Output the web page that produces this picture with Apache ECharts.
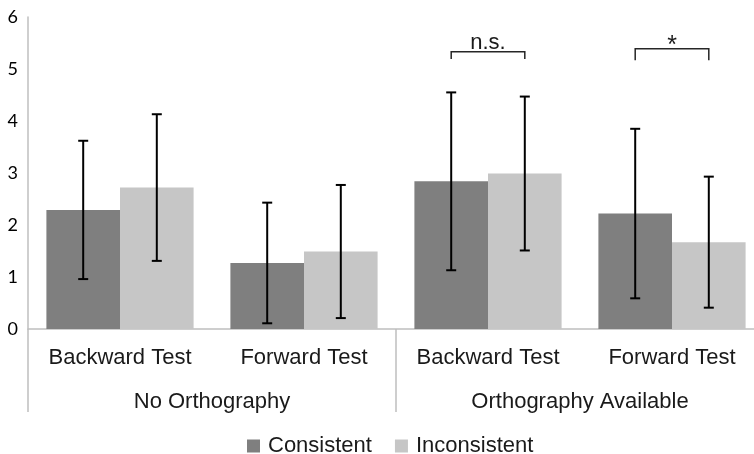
<!DOCTYPE html>
<html>
<head>
<meta charset="utf-8">
<script src="https://cdn.jsdelivr.net/npm/echarts@6/dist/echarts.min.js"></script>
<style>
  html, body { margin: 0; padding: 0; background: #fff; }
  #chart { width: 754px; height: 454px; }
</style>
</head>
<body>
<div id="chart"></div>
<script>
// data
const tests = ["Backward Test", "Forward Test", "Backward Test", "Forward Test"];
const conditions = ["No Orthography", "Orthography Available"];
const consistentMean = [2.29, 1.27, 2.84, 2.22];
const consistentSD = [1.33, 1.16, 1.71, 1.63];
const inconsistentMean = [2.72, 1.49, 2.99, 1.67];
const inconsistentSD = [1.41, 1.28, 1.48, 1.26];
// significance brackets: category index, bracket top, bracket ends, label
const bracketCat = [2, 3];
const bracketTop = [5.33, 5.39];
const bracketEnd = [5.19, 5.17];
const bracketText = ["n.s.", "*"];
const yTicks = [0, 1, 2, 3, 4, 5, 6];

const FONT = "'Liberation Sans', Arial, sans-serif";
const DARK = "#7f7f7f";
const LIGHT = "#c6c6c6";
const AXIS = "#bfbfbf";

const chart = echarts.init(document.getElementById("chart"));

// offset of each bar from the category centre (barGap 0, categoryGap 20%)
function barOffset(api, side) {
  const w = api.size([1, 0])[0] * 0.8 / 2;
  return side * w / 2;
}

function errorSeries(name, means, sds, side) {
  return {
    type: "custom",
    name: name + " err",
    xAxisIndex: 0,
    z: 5,
    silent: true,
    data: means.map((m, i) => [i, m, sds[i]]),
    renderItem: (params, api) => {
      const i = api.value(0);
      const m = api.value(1);
      const sd = api.value(2);
      const hi = api.coord([i, m + sd]);
      const lo = api.coord([i, m - sd]);
      const x = hi[0] + barOffset(api, side);
      const cap = 5;
      const style = { stroke: "#000", lineWidth: 2 };
      return {
        type: "group",
        children: [
          { type: "line", shape: { x1: x, y1: hi[1], x2: x, y2: lo[1] }, style },
          { type: "line", shape: { x1: x - cap, y1: hi[1], x2: x + cap, y2: hi[1] }, style },
          { type: "line", shape: { x1: x - cap, y1: lo[1], x2: x + cap, y2: lo[1] }, style }
        ]
      };
    }
  };
}

const bracketSeries = {
  type: "custom",
  name: "brackets",
  xAxisIndex: 0,
  z: 5,
  silent: true,
  data: bracketCat.map((c, i) => [c, bracketTop[i], bracketEnd[i], i]),
  renderItem: (params, api) => {
    const c = api.value(0);
    const top = api.coord([c, api.value(1)]);
    const end = api.coord([c, api.value(2)]);
    const x1 = top[0] + barOffset(api, -1);
    const x2 = top[0] + barOffset(api, 1);
    const label = bracketText[api.value(3)];
    const star = label === "*";
    return {
      type: "group",
      children: [
        {
          type: "polyline",
          shape: { points: [[x1, end[1]], [x1, top[1]], [x2, top[1]], [x2, end[1]]] },
          style: { stroke: "#262626", lineWidth: 1.5, fill: null }
        },
        {
          type: "text",
          x: top[0],
          y: top[1] - (star ? 3 : 9),
          style: {
            text: label,
            font: (star ? "25px " : "22px ") + FONT,
            fill: "#1a1a1a",
            align: "center",
            verticalAlign: "middle"
          }
        }
      ]
    };
  }
};

const options = {
  animation: false,
  grid: { left: 28, top: 17, width: 736, height: 312, outerBoundsMode: "none" },
  xAxis: [
    {
      type: "category",
      data: tests,
      position: "bottom",
      axisLine: { show: true, lineStyle: { color: AXIS, width: 1.5 } },
      axisTick: { show: false },
      axisLabel: { interval: 0, margin: 18, fontSize: 22, fontFamily: FONT, color: "#1a1a1a" }
    },
    {
      type: "category",
      data: conditions,
      position: "bottom",
      axisLine: { show: false },
      axisTick: { show: true, length: 83, lineStyle: { color: AXIS, width: 1.5 } },
      axisLabel: { interval: 0, margin: 62, fontSize: 22, fontFamily: FONT, color: "#1a1a1a" }
    }
  ],
  yAxis: {
    type: "value",
    min: yTicks[0],
    max: yTicks[yTicks.length - 1],
    interval: 1,
    axisLine: { show: true, lineStyle: { color: AXIS, width: 1.5 } },
    axisTick: { show: false },
    splitLine: { show: false },
    axisLabel: { margin: 10, fontSize: 18, fontFamily: "Lato, sans-serif", color: "#000" }
  },
  legend: {
    top: 430,
    left: 242,
    data: ["Consistent", "Inconsistent"],
    icon: "rect",
    itemWidth: 13,
    itemHeight: 13,
    itemGap: 23,
    textStyle: { fontSize: 22, fontFamily: FONT, color: "#1a1a1a", padding: [0, 0, 0, 3] }
  },
  series: [
    {
      name: "Consistent",
      type: "bar",
      data: consistentMean,
      barGap: "0%",
      barCategoryGap: "20%",
      itemStyle: { color: DARK }
    },
    {
      name: "Inconsistent",
      type: "bar",
      data: inconsistentMean,
      barGap: "0%",
      barCategoryGap: "20%",
      itemStyle: { color: LIGHT }
    },
    errorSeries("Consistent", consistentMean, consistentSD, -1),
    errorSeries("Inconsistent", inconsistentMean, inconsistentSD, 1),
    bracketSeries
  ]
};

chart.setOption(options);

window.addEventListener("resize", () => {
  chart.resize();
});
</script>
</body>
</html>
